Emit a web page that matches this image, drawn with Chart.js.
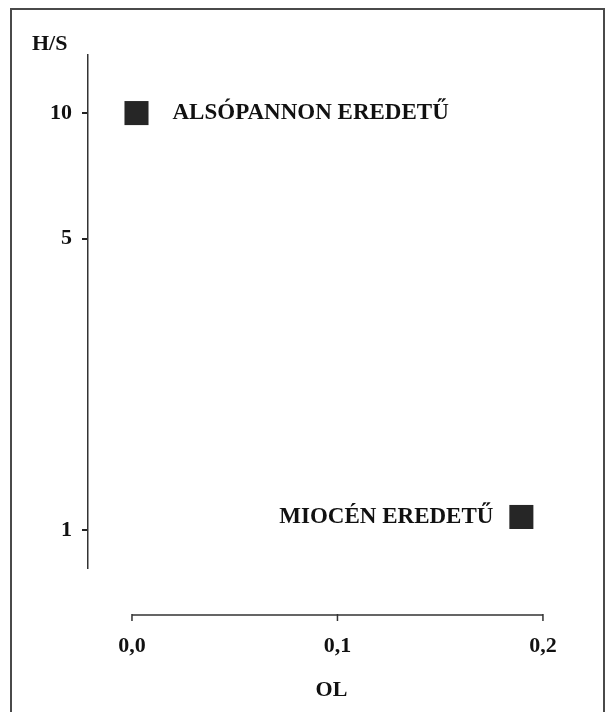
<!DOCTYPE html>
<html>
<head>
<meta charset="utf-8">
<script src="https://cdn.jsdelivr.net/npm/chart.js@4"></script>
<style>
  html, body { margin: 0; padding: 0; background: #fff; }
  #wrap { position: relative; width: 609px; height: 712px; overflow: hidden; }
  #frame { position: absolute; left: 10px; top: 8px; width: 595px; height: 720px;
           border: 2px solid #4a4a4a; box-sizing: border-box; pointer-events: none; }
</style>
</head>
<body>
<div id="wrap">
  <canvas id="chart" width="609" height="712"></canvas>
  <div id="frame"></div>
</div>
<script>
// ---- data ----
var pointNames  = ["ALSÓPANNON EREDETŰ", "MIOCÉN EREDETŰ"];
var olValues    = [0.0022, 0.1895];
var hsValues    = [10, 1.075];
var xTicks      = [0, 0.1, 0.2];
var xTickLabels = ["0,0", "0,1", "0,2"];
var yTicks      = [1, 5, 10];
var yTitle      = "H/S";
var xTitle      = "OL";

var ink = "#111";
var serif = "'Liberation Serif', 'DejaVu Serif', serif";
var boldFont = { family: serif, size: 22, weight: "bold" };

// detached x axis line + point labels + y caption
var figurePlugin = {
  id: "figureExtras",
  afterDraw: function (chart) {
    var ctx = chart.ctx;
    var xs = chart.scales.x;
    var area = chart.chartArea;
    var axisY = area.bottom + 47;
    var x0 = xs.getPixelForValue(xTicks[0]);
    var x1 = xs.getPixelForValue(xTicks[xTicks.length - 1]);

    ctx.save();
    ctx.strokeStyle = "#333";
    ctx.lineWidth = 1.5;
    ctx.beginPath();
    ctx.moveTo(x0, axisY);
    ctx.lineTo(x1, axisY);
    xTicks.forEach(function (v) {
      var px = xs.getPixelForValue(v);
      ctx.moveTo(px, axisY - 1);
      ctx.lineTo(px, axisY + 6);
    });
    ctx.stroke();

    ctx.fillStyle = ink;
    ctx.font = "bold 23px " + serif;
    ctx.textBaseline = "middle";

    var meta = chart.getDatasetMeta(0);
    var mid = (area.left + area.right) / 2;
    meta.data.forEach(function (pt, i) {
      if (pt.x > mid) {
        ctx.textAlign = "right";
        ctx.fillText(pointNames[i], pt.x - 28, pt.y);
      } else {
        ctx.textAlign = "left";
        ctx.fillText(pointNames[i], pt.x + 36, pt.y);
      }
    });

    ctx.font = "bold 22px " + serif;
    ctx.textAlign = "left";
    ctx.fillText(yTitle, 32, 44);
    ctx.restore();
  }
};

var ctx = document.getElementById("chart");
new Chart(ctx, {
  type: "scatter",
  data: {
    datasets: [{
      data: olValues.map(function (v, i) { return { x: v, y: hsValues[i] }; }),
      pointStyle: "rect",
      pointRadius: 17,
      pointHoverRadius: 17,
      backgroundColor: "#262626",
      borderWidth: 0,
      showLine: false
    }]
  },
  options: {
    responsive: false,
    animation: false,
    layout: { padding: { left: 0, top: 55, right: 34, bottom: 0 } },
    plugins: {
      legend: { display: false },
      tooltip: { enabled: false }
    },
    scales: {
      x: {
        type: "linear",
        min: -0.0214,
        max: 0.2156,
        afterFit: function (scale) {
          scale.height = 144;
          scale.paddingLeft = 0;
          scale.paddingRight = 0;
        },
        afterBuildTicks: function (scale) {
          scale.ticks = xTicks.map(function (v) { return { value: v }; });
        },
        grid: { display: false, drawTicks: false },
        border: { display: false },
        ticks: {
          autoSkip: false,
          maxRotation: 0,
          padding: 65,
          color: ink,
          font: boldFont,
          callback: function (val, idx) { return xTickLabels[idx]; }
        },
        title: {
          display: true,
          text: xTitle,
          color: ink,
          font: boldFont,
          padding: { top: 0, bottom: 8 }
        }
      },
      y: {
        type: "logarithmic",
        min: 0.811,
        max: 13.78,
        afterFit: function (scale) { scale.width = 88; },
        afterBuildTicks: function (scale) {
          scale.ticks = yTicks.map(function (v) { return { value: v }; });
        },
        grid: { drawOnChartArea: false, tickLength: 6, color: "#222", lineWidth: 2 },
        border: { display: true, color: "#333", width: 1.5 },
        ticks: {
          autoSkip: false,
          padding: 10,
          color: ink,
          font: boldFont,
          callback: function (val) { return String(val); }
        }
      }
    }
  },
  plugins: [figurePlugin]
});
</script>
</body>
</html>
